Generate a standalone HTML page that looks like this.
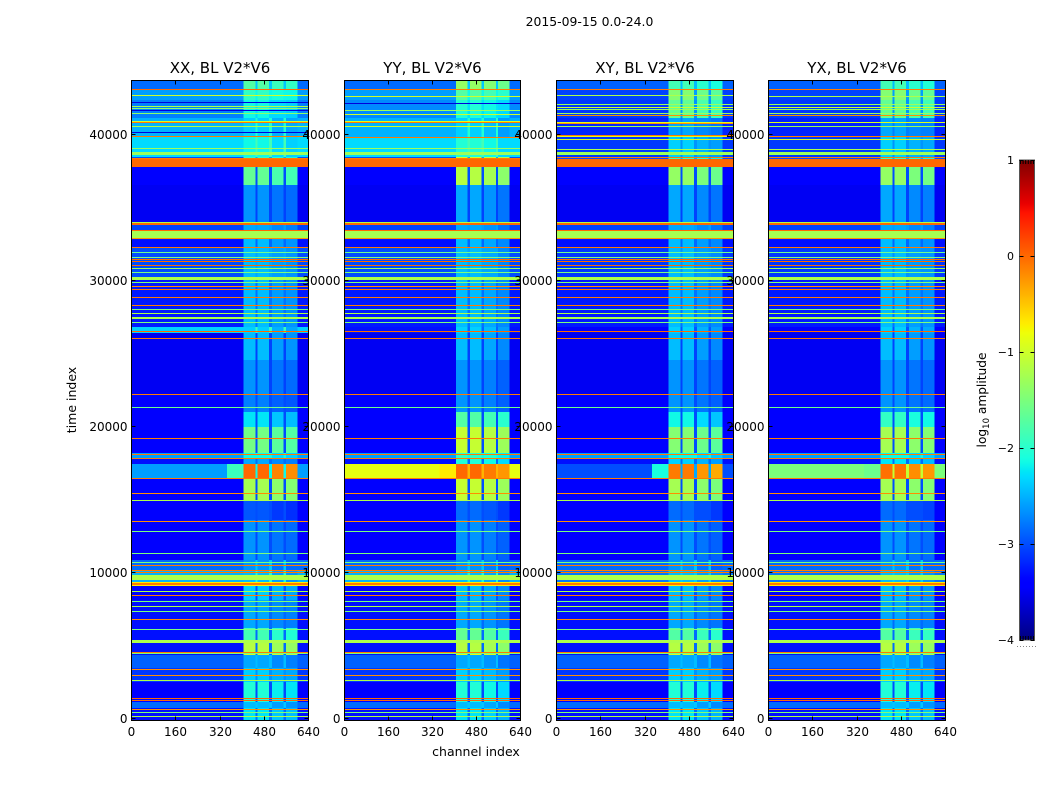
<!DOCTYPE html>
<html lang="en">
<head>
<meta charset="utf-8">
<title>2015-09-15 0.0-24.0</title>
<style>
html,body{margin:0;padding:0;background:#fff;width:1050px;height:800px;overflow:hidden}
svg{display:block}
text{font-family:"DejaVu Sans","Liberation Sans",sans-serif;fill:#000}
</style>
</head>
<body>
<svg id="figure" xmlns="http://www.w3.org/2000/svg" width="1050" height="800" viewBox="0 0 1050 800">
  <rect x="0" y="0" width="1050" height="800" fill="#fff"/>
  <text x="589.5" y="26" font-size="12.4" text-anchor="middle">2015-09-15 0.0-24.0</text>
  <g id="panels"></g>
  <text x="0" y="0" font-size="12.5" text-anchor="middle" transform="translate(76 400) rotate(-90)">time index</text>
  <text x="476" y="756" font-size="12.5" text-anchor="middle">channel index</text>
  <g id="colorbar"></g>
  <text x="0" y="0" font-size="12.2" text-anchor="middle" transform="translate(986 400) rotate(-90)">log<tspan font-size="8.5" dy="3">10</tspan><tspan dy="-3"> amplitude</tspan></text>
</svg>
<script>
// ---- Axis tick values ----
const xTickValues = [0, 160, 320, 480, 640];
const yTickValues = [0, 10000, 20000, 30000, 40000];
const colorbarTickValues = [-4, -3, -2, -1, 0, 1];
const panelNames = ["XX", "YY", "XY", "YX"];

// ---- Heatmap structure: channel segments and time bands ----
const channelEdges = [0, 345, 405, 448, 456, 498, 508, 550, 558, 600, 640];
const bandEdges = [-137, 685, 1096, 2466, 3425, 4316, 4521, 5343, 6165, 8083, 9042, 10138, 10823, 13563, 14933, 16440, 17399, 17810, 18152, 19933, 20961, 22194, 24523, 26373, 26784, 30003, 32264, 32880, 33771, 36510, 37744, 38429, 39799, 41100, 42333, 43018, 43636];
const glowBandIndex = 15;
const gapLift = 0.45;

// ---- log10 amplitude per time band, off-band channels ----
const xxOff = [-3.3,-2.85,-3.45,-3.1,-2.9,-3.3,-3.3,-3.3,-3.3,-3.4,-2.5,-2.85,-3.45,-3.45,-3.45,-2.6,-3.3,-2.6,-3.45,-3.45,-3.45,-3.5,-3.5,-2.35,-3.25,-3.0,-3.3,-3.05,-3.5,-3.45,-3.0,-2.3,-2.5,-2.75,-2.6,-2.85];
const yyOff = [-3.3,-2.85,-3.45,-3.1,-2.9,-3.3,-3.3,-3.3,-3.3,-3.4,-2.5,-2.85,-3.45,-3.45,-3.45,-0.85,-3.3,-2.6,-3.45,-3.45,-3.45,-3.5,-3.5,-3.3,-3.25,-3.0,-3.3,-3.05,-3.5,-3.45,-3.0,-2.3,-2.5,-2.7,-2.6,-2.85];
const xyOff = [-3.3,-2.85,-3.45,-3.1,-2.9,-3.3,-3.3,-3.3,-3.3,-3.4,-2.8,-2.85,-3.45,-3.45,-3.45,-3.0,-3.3,-2.6,-3.45,-3.45,-3.45,-3.5,-3.5,-3.4,-3.25,-3.1,-3.3,-3.05,-3.5,-3.45,-3.0,-3.1,-3.2,-3.1,-3.05,-2.9];
const yxOff = [-3.3,-2.85,-3.45,-3.1,-2.9,-3.3,-3.3,-3.3,-3.3,-3.4,-2.8,-2.85,-3.45,-3.45,-3.45,-1.5,-3.3,-2.6,-3.45,-3.45,-3.45,-3.5,-3.5,-3.4,-3.25,-3.1,-3.3,-3.05,-3.5,-3.45,-3.0,-3.1,-3.2,-3.1,-3.05,-2.9];

// ---- log10 amplitude per time band, in the four bright channel columns ----
const xxOn = [-2.3,-2.5,-2.1,-2.4,-2.6,-1.0,-1.2,-1.9,-2.6,-2.4,-2.5,-2.7,-2.7,-3.0,-1.3,-0.05,-2.6,-2.2,-1.6,-2.3,-2.8,-2.7,-2.5,-2.4,-2.5,-2.5,-2.5,-2.6,-2.7,-1.7,-2.0,-2.2,-2.4,-2.2,-2.0,-1.8];
const yyOn = [-2.3,-2.5,-2.1,-2.4,-2.6,-0.9,-1.2,-1.7,-2.6,-2.5,-2.5,-2.7,-2.7,-2.9,-1.1,-0.05,-2.1,-2.0,-1.1,-1.8,-2.7,-2.7,-2.5,-2.4,-2.5,-2.5,-2.5,-2.6,-2.6,-1.2,-1.0,-2.1,-2.4,-2.1,-1.8,-1.4];
const xyOn = [-2.3,-2.5,-2.1,-2.4,-2.6,-1.0,-1.2,-1.8,-2.6,-2.5,-2.5,-2.7,-2.7,-2.9,-1.3,-0.15,-2.4,-2.2,-1.5,-2.2,-2.7,-2.7,-2.5,-2.4,-2.5,-2.5,-2.5,-2.6,-2.6,-1.4,-2.0,-2.4,-2.6,-1.7,-1.5,-1.9];
const yxOn = [-2.3,-2.5,-2.1,-2.4,-2.6,-1.0,-1.2,-1.8,-2.6,-2.5,-2.5,-2.7,-2.7,-2.9,-1.3,-0.1,-2.3,-2.2,-1.3,-2.0,-2.7,-2.7,-2.5,-2.4,-2.5,-2.5,-2.5,-2.6,-2.6,-1.4,-2.0,-2.4,-2.6,-1.7,-1.5,-1.9];

// ---- Column brightness differences and glow wing level per panel ----
const xxColumnOffsets = [0.05, 0.05, -0.1, -0.15];
const yyColumnOffsets = [0.05, 0.05, -0.05, -0.2];
const xyColumnOffsets = [0.05, 0.05, -0.1, -0.2];
const yxColumnOffsets = [0.05, 0.05, -0.1, -0.15];
const wingLevels = [-1.9, -0.7, -2.1, -1.6];

// ---- Flagged rows: times and levels ----
const commonFlagTimes = [33976,33908,33839,33428,32880,32264,31921,31579,31442,31305,31031,30825,30551,29866,29592,29387,28839,28291,28017,27743,27469,27400,27126,26510,26030,22194,21304,19180,18084,17810,16440,15413,14933,13495,12810,11303,10686,10481,10138,10001,9316,9248,9179,9111,8700,8426,8015,7672,7330,6782,6097,4521,4453,3357,2946,2603,1370,1233,617,411,137];
const commonFlagLevels = [-1.2,0,0,0,-0.2,-0.1,-1.6,-1.5,0,0,0,-1.2,-1.5,-1.5,-0.2,-0.1,-0.1,-0.1,-1.5,-1.2,-1.2,-1.2,-1.5,0,-0.1,-0.1,-1.6,-0.1,-0.1,-0.1,-0.1,-0.2,-1.2,-0.2,-1.5,-1.5,-1.5,-0.1,-0.1,-0.1,-0.7,-0.1,-0.1,-0.7,-1.2,-0.1,-1.5,-1.2,-1.5,-0.2,-1.5,-0.1,-1.5,-0.2,-0.2,-1.2,0,0,-0.2,-1.5,-1.2];
const xxFlagTimes = [43087,42676,42196,41922,41785,41443,41648,40895,40826,40552,40141,39867,39045,38360];
const xxFlagLevels = [0,-1.0,-3.6,-1.2,-1.4,-1.4,-3.6,-1.0,-0.1,-1.2,-3.6,-0.1,-1.3,-0.1];
const yyFlagTimes = [43087,42607,42128,41648,41374,40895,40826,40552,39799,39045,38360];
const yyFlagLevels = [-0.1,-1.0,-3.6,-1.3,-1.0,-0.9,-0.1,-1.0,-0.1,-1.3,-0.1];
const xyFlagTimes = [43087,42676,42059,41854,41717,41443,41306,40826,40758,40552,39936,39867,39662,38977,38429];
const xyFlagLevels = [-0.1,-1.2,-1.3,-1.0,-1.3,-1.3,-0.2,-0.9,-0.2,-1.3,-0.1,-0.9,-1.0,-1.2,-0.1];
const yxFlagTimes = [43087,42607,42059,41854,41717,41443,41306,40826,40552,39867,39662,38977,38429];
const yxFlagLevels = [-0.1,-1.2,-1.3,-1.0,-1.3,-1.3,-0.2,-0.9,-1.3,-0.1,-1.0,-1.2,-0.1];

// ---- Wide flagged blocks: start, end, level ----
const wideFlagStarts = [37744, 32880, 30003, 9453, 5138, 38566];
const wideFlagEnds = [38292, 33360, 30209, 9796, 5343, 38771];
const wideFlagLevels = [0, -1.25, -1.2, -1.2, -1.2, -1.3];

// ---- Per panel lookups ----
const panelOff = [xxOff, yyOff, xyOff, yxOff];
const panelOn = [xxOn, yyOn, xyOn, yxOn];
const panelOffsets = [xxColumnOffsets, yyColumnOffsets, xyColumnOffsets, yxColumnOffsets];
const panelFlagTimes = [xxFlagTimes, yyFlagTimes, xyFlagTimes, yxFlagTimes];
const panelFlagLevels = [xxFlagLevels, yyFlagLevels, xyFlagLevels, yxFlagLevels];

// ---- Layout ----
const SVGNS = "http://www.w3.org/2000/svg";
const panelLefts = [131.5, 344.5, 556.5, 768.5];
const panelRights = [308.5, 520.5, 733.5, 945.5];
const frameTop = 80.5, frameBottom = 720.5;
const pxPerTime = 1 / 68.5;

function yScale(t) { return 718 - t * pxPerTime; }
function xScale(c, p) { return panelLefts[p] + c * (panelRights[p] - panelLefts[p]) / 640; }
function barY(v) { return 640 - (v + 4) * 96; }

// matplotlib jet colormap
function ramp(pts, x) {
  for (let i = 1; i < pts.length; i++) {
    if (x <= pts[i][0]) {
      const a = pts[i - 1], b = pts[i];
      return a[1] + (b[1] - a[1]) * (x - a[0]) / (b[0] - a[0]);
    }
  }
  return pts[pts.length - 1][1];
}
const jetR = [[0, 0], [0.35, 0], [0.66, 1], [0.89, 1], [1, 0.5]];
const jetG = [[0, 0], [0.125, 0], [0.375, 1], [0.64, 1], [0.91, 0], [1, 0]];
const jetB = [[0, 0.5], [0.11, 1], [0.34, 1], [0.65, 0], [1, 0]];
function levelColor(v) {
  const x = Math.max(0, Math.min(1, (v + 4) / 5));
  const c = f => Math.round(255 * ramp(f, x));
  return "rgb(" + c(jetR) + "," + c(jetG) + "," + c(jetB) + ")";
}

function make(tag, parent, attrs) {
  const el = document.createElementNS(SVGNS, tag);
  for (const k in attrs) el.setAttribute(k, attrs[k]);
  parent.appendChild(el);
  return el;
}

const panelsRoot = document.getElementById("panels");

panelNames.forEach(function (name, p) {
  const lower = name.toLowerCase();
  const group = make("g", panelsRoot, {});
  
  

  const heat = make("g", group, { "shape-rendering": "crispEdges" });
  
  

  // band cells
  for (let b = 0; b < bandEdges.length - 1; b++) {
    const top = yScale(bandEdges[b + 1]);
    const bottom = yScale(bandEdges[b]);
    for (let s = 0; s < channelEdges.length - 1; s++) {
      let v = panelOff[p][b];
      if (s === 1 && b === glowBandIndex) v = wingLevels[p];
      if (s === 2 || s === 4 || s === 6 || s === 8) v = panelOn[p][b] + panelOffsets[p][(s - 2) / 2];
      if (s === 3 || s === 5 || s === 7) v = panelOff[p][b] + gapLift;
      const x0 = xScale(channelEdges[s], p);
      const x1 = xScale(channelEdges[s + 1], p);
      const cell = make("rect", heat, { x: x0, y: top, width: x1 - x0, height: bottom - top, fill: levelColor(v) });
      
      
    }
  }

  const drawFlag = function (t0, t1, v) {
    const top = yScale(t1);
    const flag = make("rect", heat, {
      x: panelLefts[p], y: top,
      width: panelRights[p] - panelLefts[p],
      height: yScale(t0) - top,
      fill: levelColor(v)
    });
    
    
  };

  wideFlagStarts.forEach(function (t, i) { drawFlag(t, wideFlagEnds[i], wideFlagLevels[i]); });
  commonFlagTimes.forEach(function (t, i) { drawFlag(t - 68.5, t, commonFlagLevels[i]); });
  panelFlagTimes[p].forEach(function (t, i) { drawFlag(t - 68.5, t, panelFlagLevels[p][i]); });

  // frame
  const frame = make("rect", group, {
    x: panelLefts[p], y: frameTop,
    width: panelRights[p] - panelLefts[p],
    height: frameBottom - frameTop,
    fill: "none", stroke: "#000", "stroke-width": 1
  });
  
  

  // x ticks
  xTickValues.forEach(function (v) {
    const x = Math.round(xScale(v, p) - 0.5) + 0.5;
    const t1 = make("line", group, { x1: x, x2: x, y1: frameBottom, y2: frameBottom - 4, stroke: "#000" });
    
    
    const t2 = make("line", group, { x1: x, x2: x, y1: frameTop, y2: frameTop + 4, stroke: "#000" });
    
    
    const label = make("text", group, { x: x, y: 736, "font-size": 12, "text-anchor": "middle" });
    label.textContent = String(v);
    
    
  });

  // y ticks
  yTickValues.forEach(function (v) {
    const y = Math.round(yScale(v)) + 0.5;
    const t1 = make("line", group, { x1: panelLefts[p], x2: panelLefts[p] + 4, y1: y, y2: y, stroke: "#000" });
    
    
    const t2 = make("line", group, { x1: panelRights[p], x2: panelRights[p] - 4, y1: y, y2: y, stroke: "#000" });
    
    
    const label = make("text", group, { x: panelLefts[p] - 4, y: y + 4.5, "font-size": 12, "text-anchor": "end" });
    label.textContent = String(v);
    
    
  });

  // title
  const title = make("text", group, { x: (panelLefts[p] + panelRights[p]) / 2, y: 73, "font-size": 15, "text-anchor": "middle" });
  title.textContent = name + ", BL V2*V6";
  
  
});

// ---- Colorbar ----
const cbRoot = document.getElementById("colorbar");
const cbLeft = 1019.5, cbRight = 1034.5;
const defs = make("defs", cbRoot, {});
const grad = make("linearGradient", defs, { id: "jet-gradient", x1: 0, y1: 1, x2: 0, y2: 0 });
for (let i = 0; i <= 100; i++) {
  make("stop", grad, { offset: (i / 100), "stop-color": levelColor(-4 + 5 * i / 100) });
}
const cbBar = make("rect", cbRoot, { x: cbLeft, y: barY(1), width: cbRight - cbLeft, height: barY(-4) - barY(1), fill: "url(#jet-gradient)", stroke: "#555", "stroke-width": 1 });



colorbarTickValues.forEach(function (v) {
  const y = Math.round(barY(v)) + 0.5;
  const left = make("line", cbRoot, { x1: cbLeft, x2: cbLeft + 4, y1: y, y2: y, stroke: "#000" });
  
  
  const right = make("line", cbRoot, { x1: cbRight, x2: cbRight - 4, y1: y, y2: y, stroke: "#000" });
  
  
  const label = make("text", cbRoot, { x: 1014, y: y + 3.5, "font-size": 11, "text-anchor": "end" });
  label.textContent = v < 0 ? "\u2212" + Math.abs(v) : String(v);
  
  
});

const cbTopTicks = make("line", cbRoot, { x1: 1020, x2: 1034, y1: 162, y2: 162, stroke: "#000", "stroke-width": 4, "stroke-dasharray": "1 1.6" });


const cbBottomTicks = make("line", cbRoot, { x1: 1020, x2: 1034, y1: 638, y2: 638, stroke: "#000", "stroke-width": 4, "stroke-dasharray": "1 1.6" });


const cbDots = make("line", cbRoot, { x1: 1017, x2: 1036, y1: 646.5, y2: 646.5, stroke: "#888", "stroke-width": 1, "stroke-dasharray": "1 2" });


</script>
</body>
</html>
